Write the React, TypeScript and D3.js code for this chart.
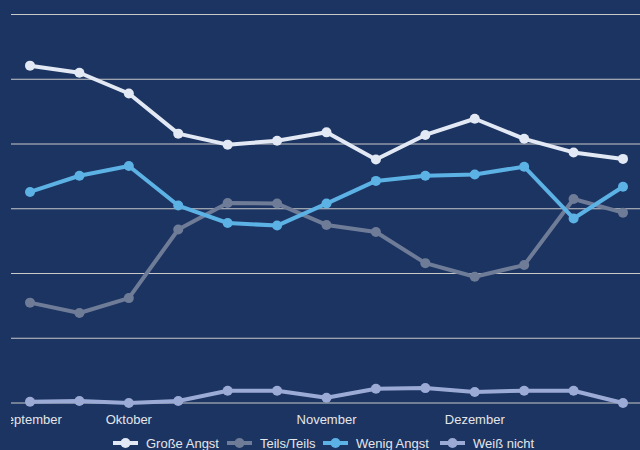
import React from "react";
import * as d3 from "d3";

const periods = ["S1","S2","O1","O2","O3","O4","N1","N2","N3","D1","D2","D3","D4"];
const tickLabels: [string, string][] = [["S1","September"],["O1","Oktober"],["N1","November"],["D1","Dezember"]];
const yTicks = [0,10,20,30,40,50,60];

const grosseAngst = [52.1, 51.0, 47.8, 41.6, 39.9, 40.5, 41.8, 37.6, 41.4, 43.9, 40.8, 38.7, 37.7];
const teilsTeils = [15.5, 13.9, 16.2, 26.8, 30.9, 30.8, 27.5, 26.4, 21.6, 19.5, 21.3, 31.5, 29.4];
const wenigAngst = [32.6, 35.1, 36.6, 30.5, 27.8, 27.4, 30.8, 34.3, 35.1, 35.3, 36.5, 28.5, 33.4];
const weissNicht = [0.2, 0.3, 0.0, 0.3, 1.9, 1.9, 0.8, 2.2, 2.3, 1.7, 1.9, 1.9, 0.0];

const seriesNames = ["Große Angst","Teils/Teils","Wenig Angst","Weiß nicht"];
const seriesColors = ["#e2e8f4","#6f7c98","#5cb2e4","#9cabd6"];
const seriesValues = [grosseAngst, teilsTeils, wenigAngst, weissNicht];

export default function App() {
  const W = 640, H = 450;
  const x = d3.scalePoint<string>().domain(periods).range([30, 623]);
  const y = d3.scaleLinear().domain([0, 60]).range([403, 14.5]);
  const line = d3.line<number>().x((_, i) => x(periods[i]) as number).y(d => y(d));
  const font = "'Liberation Sans', Arial, sans-serif";
  const legendX = [113, 227, 323, 440];
  return (
    <svg width={W} height={H} style={{ position: "absolute", left: 0, top: 0, background: "#1c3461" }} fontFamily={font}>
      <defs>
        <clipPath id="clip"><rect x={11} y={0} width={W - 11} height={H} /></clipPath>
      </defs>
      <rect width={W} height={H} fill="#1c3461" />
      {yTicks.map(t => (
        <line key={t} x1={11} x2={W} y1={y(t)} y2={y(t)} stroke="#c9c9c9" strokeWidth={1} />
      ))}
      <g clipPath="url(#clip)">
        {tickLabels.map(([k, lab]) => (
          <text key={k} x={x(k)} y={424} textAnchor="middle" fontSize={13} fill="#e4e6ea">{lab}</text>
        ))}
      </g>
      {seriesValues.map((vals, si) => (
        <g key={si}>
          <path d={line(vals) || ""} fill="none" stroke={seriesColors[si]} strokeWidth={4} strokeLinejoin="round" />
          {vals.map((v, i) => (
            <circle key={i} cx={x(periods[i])} cy={y(v)} r={5} fill={seriesColors[si]} />
          ))}
        </g>
      ))}
      {seriesNames.map((n, i) => (
        <g key={n} transform={`translate(${legendX[i]},443)`}>
          <line x1={0} x2={25} y1={0} y2={0} stroke={seriesColors[i]} strokeWidth={4} />
          <circle cx={12.5} cy={0} r={5} fill={seriesColors[i]} />
          <text x={33} y={4.5} fontSize={13} fill="#e4e6ea">{n}</text>
        </g>
      ))}
    </svg>
  );
}
